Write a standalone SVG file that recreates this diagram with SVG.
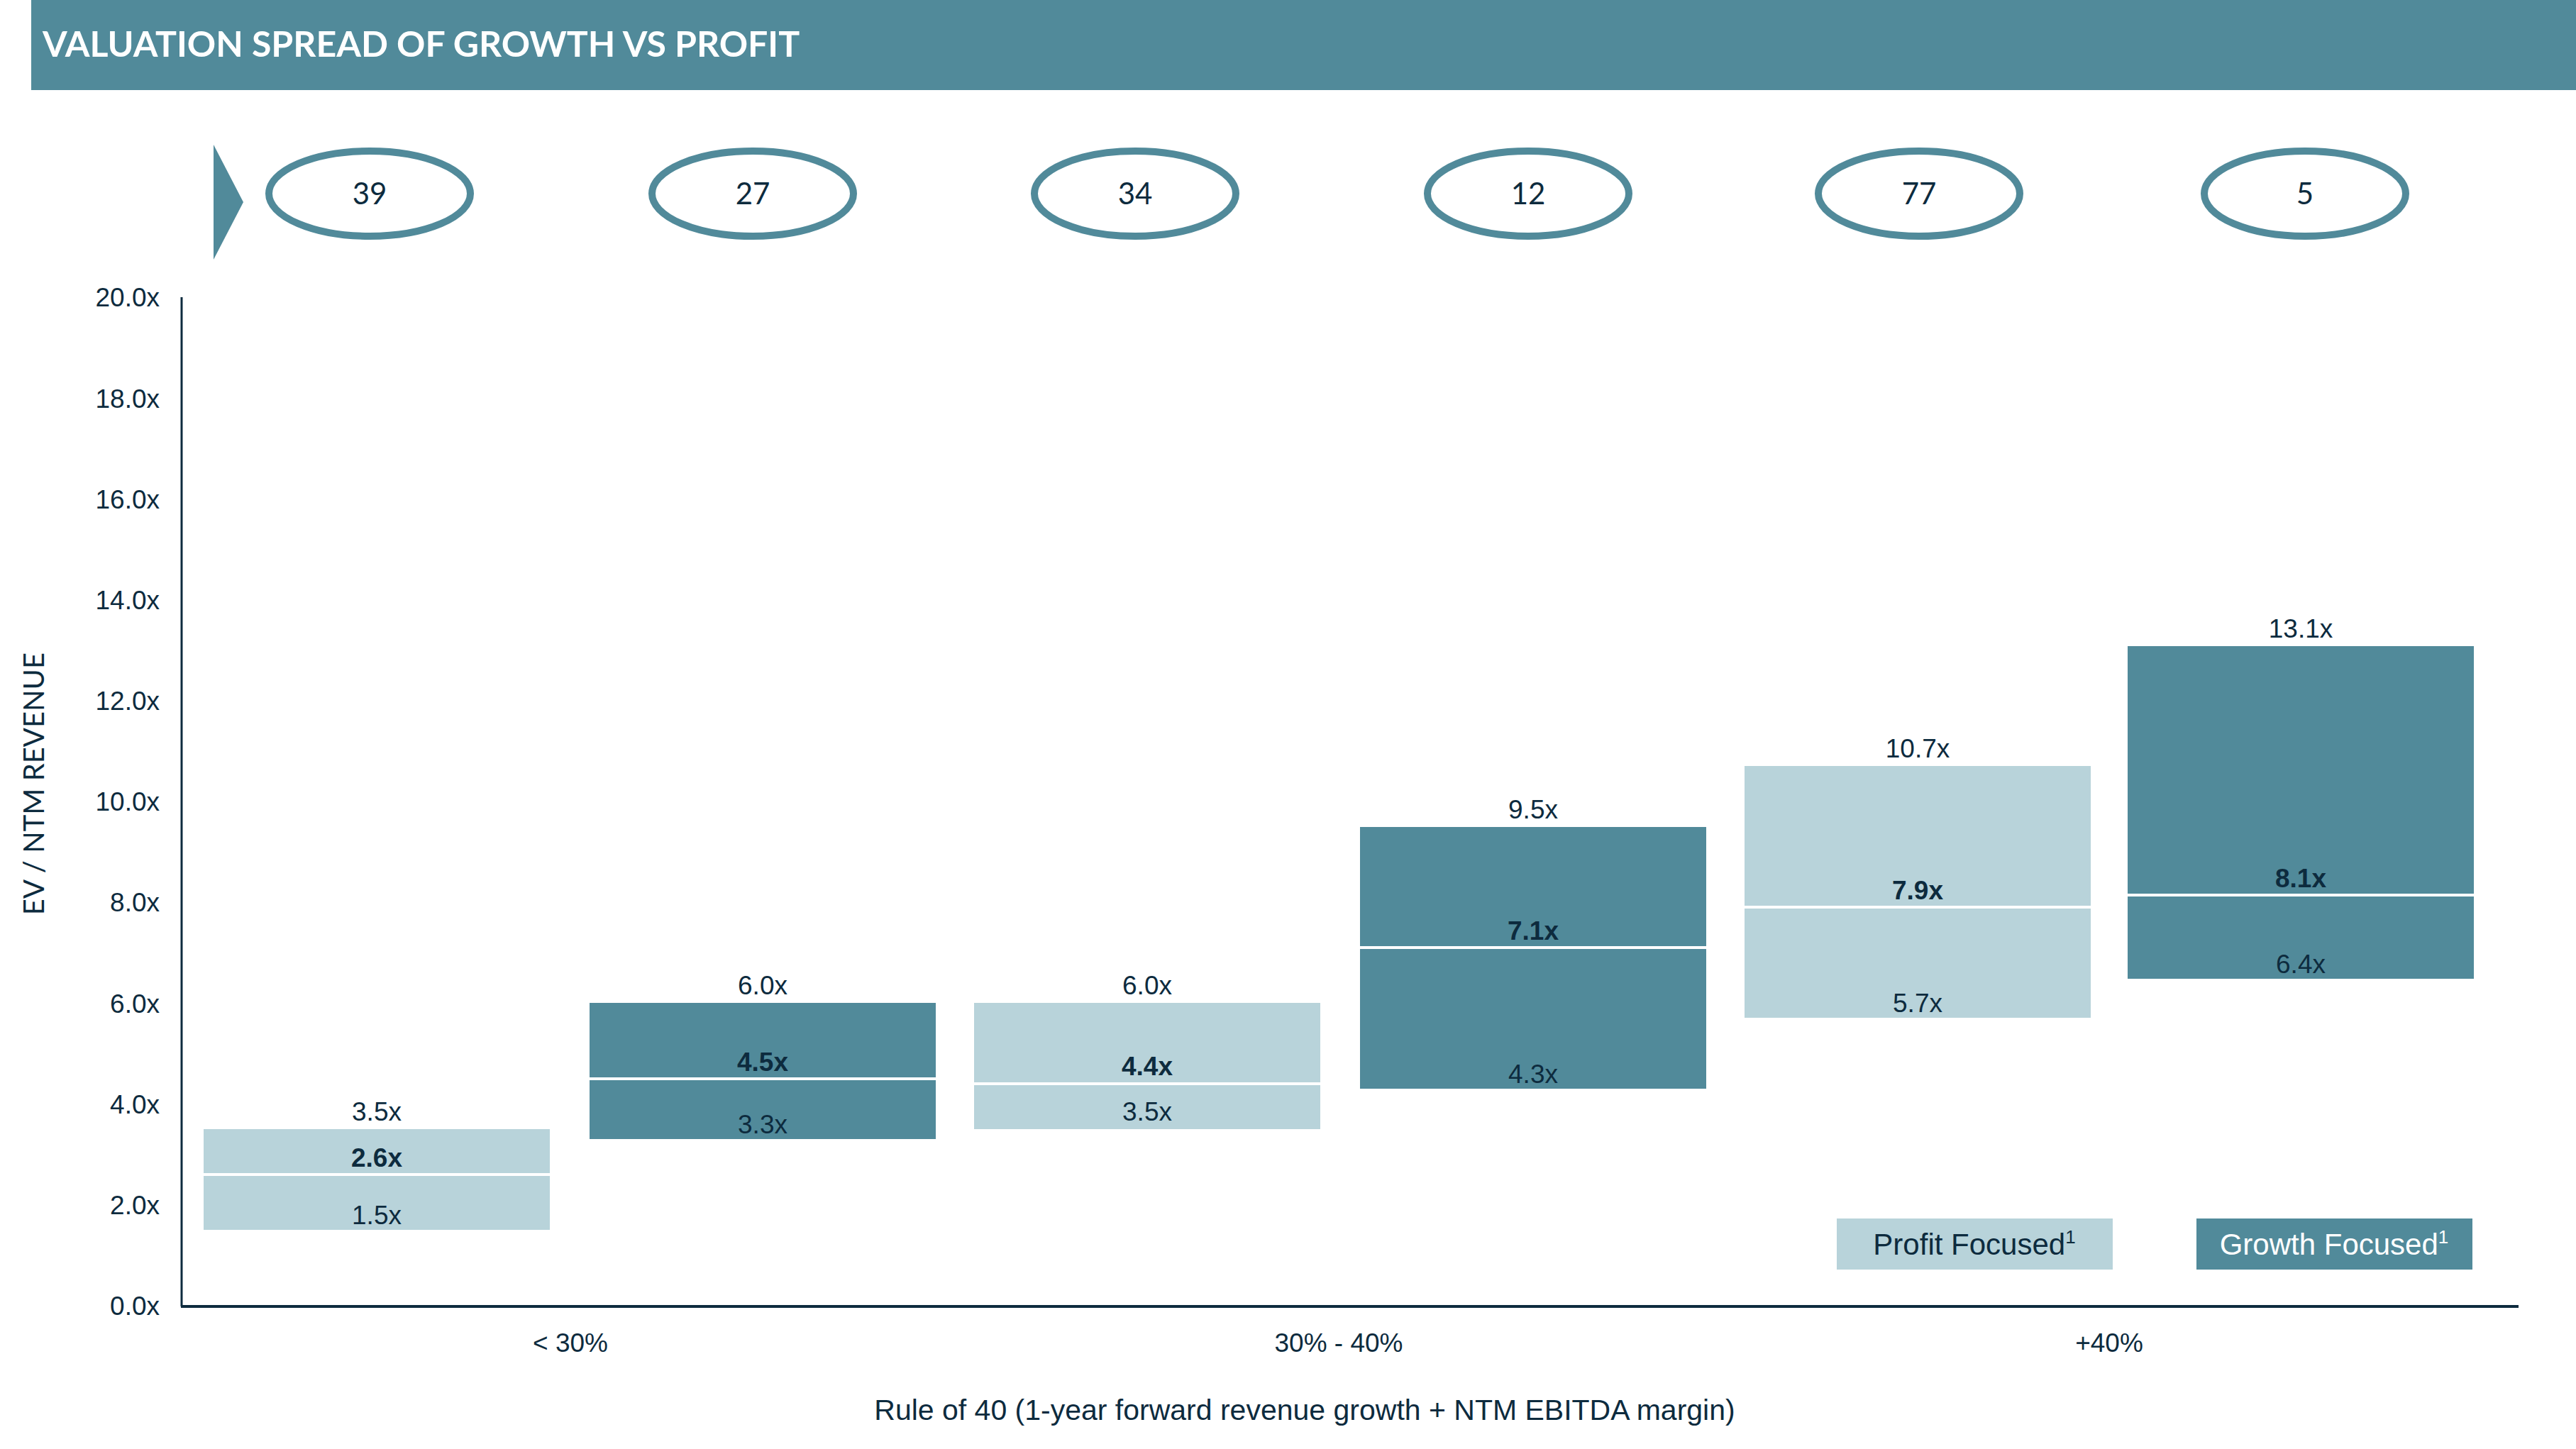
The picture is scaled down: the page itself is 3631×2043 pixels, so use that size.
<svg xmlns="http://www.w3.org/2000/svg" width="3631" height="2043" viewBox="0 0 3631 2043">
<style>
.t{font-family:"Liberation Sans",Arial,sans-serif;fill:#0d2b3e}
.tk{font-size:37px;text-anchor:end}
.lb{font-size:37px;text-anchor:middle}
.b{font-weight:bold}
.num{font-family:Lato,"Liberation Sans",sans-serif;font-size:42px;text-anchor:middle;fill:#0d2b3e}
.ell{fill:#fff;stroke:#518a9a;stroke-width:10}
.dk{fill:#518a9a}
.lt{fill:#b8d3da}
.med{stroke:#fff;stroke-width:4}
</style>
<rect x="44" y="0" width="3587" height="127" fill="#518a9a"/>
<text x="60" y="80" font-family="Lato,'Liberation Sans',sans-serif" font-weight="bold" font-size="50" fill="#fff">VALUATION SPREAD OF GROWTH VS PROFIT</text>
<polygon points="301,204 343,285 301,366" fill="#518a9a"/>
<g id="counts">
<g id="c1"><ellipse class="ell" cx="521" cy="273" rx="142" ry="60"/><text class="num" x="521" y="288">39</text></g>
<g id="c2"><ellipse class="ell" cx="1061" cy="273" rx="142" ry="60"/><text class="num" x="1061" y="288">27</text></g>
<g id="c3"><ellipse class="ell" cx="1600" cy="273" rx="142" ry="60"/><text class="num" x="1600" y="288">34</text></g>
<g id="c4"><ellipse class="ell" cx="2154" cy="273" rx="142" ry="60"/><text class="num" x="2154" y="288">12</text></g>
<g id="c5"><ellipse class="ell" cx="2705" cy="273" rx="142" ry="60"/><text class="num" x="2705" y="288">77</text></g>
<g id="c6"><ellipse class="ell" cx="3249" cy="273" rx="142" ry="60"/><text class="num" x="3249" y="288">5</text></g>
</g>
<g id="axes" stroke="#0d2b3e">
<line x1="256" y1="419" x2="256" y2="1842" stroke-width="3"/>
<line x1="255" y1="1842" x2="3550" y2="1842" stroke-width="4"/>
</g>
<g id="ticks" class="t">
<text class="t tk" x="225" y="1854">0.0x</text>
<text class="t tk" x="225" y="1712">2.0x</text>
<text class="t tk" x="225" y="1570">4.0x</text>
<text class="t tk" x="225" y="1428">6.0x</text>
<text class="t tk" x="225" y="1285">8.0x</text>
<text class="t tk" x="225" y="1143">10.0x</text>
<text class="t tk" x="225" y="1001">12.0x</text>
<text class="t tk" x="225" y="859">14.0x</text>
<text class="t tk" x="225" y="717">16.0x</text>
<text class="t tk" x="225" y="575">18.0x</text>
<text class="t tk" x="225" y="432">20.0x</text>
</g>
<text x="62" y="1105" transform="rotate(-90 62 1105)" text-anchor="middle" font-family="Lato,'Liberation Sans',sans-serif" font-size="40" fill="#0d2b3e">EV / NTM REVENUE</text>
<g id="bar1"><rect class="lt" x="287" y="1592" width="488" height="142"/><line class="med" x1="287" y1="1656" x2="775" y2="1656"/>
<text class="t lb" x="531" y="1580">3.5x</text><text class="t lb b" x="531" y="1645">2.6x</text><text class="t lb" x="531" y="1726">1.5x</text></g>
<g id="bar2"><rect class="dk" x="831" y="1414" width="488" height="192"/><line class="med" x1="831" y1="1521" x2="1319" y2="1521"/>
<text class="t lb" x="1075" y="1402">6.0x</text><text class="t lb b" x="1075" y="1510">4.5x</text><text class="t lb" x="1075" y="1598">3.3x</text></g>
<g id="bar3"><rect class="lt" x="1373" y="1414" width="488" height="178"/><line class="med" x1="1373" y1="1528" x2="1861" y2="1528"/>
<text class="t lb" x="1617" y="1402">6.0x</text><text class="t lb b" x="1617" y="1516">4.4x</text><text class="t lb" x="1617" y="1580">3.5x</text></g>
<g id="bar4"><rect class="dk" x="1917" y="1166" width="488" height="369"/><line class="med" x1="1917" y1="1336" x2="2405" y2="1336"/>
<text class="t lb" x="2161" y="1154">9.5x</text><text class="t lb b" x="2161" y="1325">7.1x</text><text class="t lb" x="2161" y="1527">4.3x</text></g>
<g id="bar5"><rect class="lt" x="2459" y="1080" width="488" height="355"/><line class="med" x1="2459" y1="1279" x2="2947" y2="1279"/>
<text class="t lb" x="2703" y="1068">10.7x</text><text class="t lb b" x="2703" y="1268">7.9x</text><text class="t lb" x="2703" y="1427">5.7x</text></g>
<g id="bar6"><rect class="dk" x="2999" y="911" width="488" height="469"/><line class="med" x1="2999" y1="1262" x2="3487" y2="1262"/>
<text class="t lb" x="3243" y="899">13.1x</text><text class="t lb b" x="3243" y="1251">8.1x</text><text class="t lb" x="3243" y="1372">6.4x</text></g>
<g id="legend">
<rect class="lt" x="2589" y="1718" width="389" height="72"/>
<text class="t" x="2783" y="1769" font-size="42" text-anchor="middle">Profit Focused<tspan font-size="26" dy="-16">1</tspan></text>
<rect class="dk" x="3096" y="1718" width="389" height="72"/>
<text class="t" x="3290" y="1769" font-size="42" text-anchor="middle" style="fill:#fff">Growth Focused<tspan font-size="26" dy="-16">1</tspan></text>
</g>
<g id="xlabels">
<text class="t lb" x="804" y="1906" font-size="38">&lt; 30%</text>
<text class="t lb" x="1887" y="1906" font-size="38">30% - 40%</text>
<text class="t lb" x="2973" y="1906" font-size="38">+40%</text>
<text class="t" x="1839" y="2002" font-size="41" text-anchor="middle">Rule of 40 (1-year forward revenue growth + NTM EBITDA margin)</text>
</g>
</svg>
